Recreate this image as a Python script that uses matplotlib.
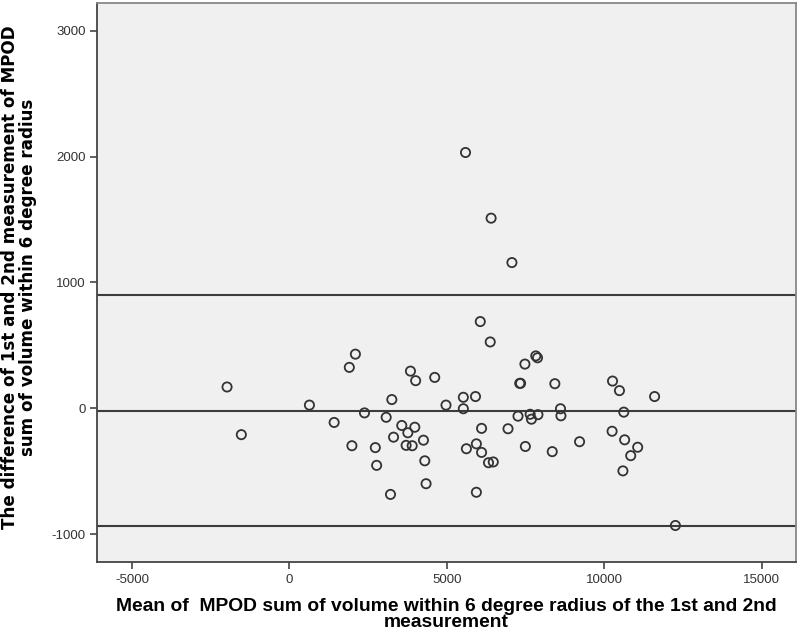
import matplotlib
matplotlib.use("Agg")
import matplotlib.pyplot as plt

plt.rcParams["axes.unicode_minus"] = False

# mean of the two measurements (x) and their difference (y)
mean_vals = [5592, 6405, 7066, 6061, 6377, 2094, 1901, -1983, -1529, 634,
             1419, 2383, 1983, 2727, 2769, 3072, 3251, 3306, 3209, 3567,
             3760, 3705, 3898, 3981, 3843, 4008, 4256, 4298, 4339, 4614,
             4972, 5523, 5523, 5909, 5620, 5937, 6102, 6102, 5937, 6322,
             6474, 6942, 7259, 7314, 7341, 7479, 7493, 7645, 7686, 7893,
             7824, 7879, 8430, 8347, 8609, 8623, 9215, 10262, 10482, 10248,
             10620, 10647, 10592, 10840, 11061, 11598, 12259]
diff_vals = [2033, 1511, 1158, 689, 527, 430, 325, 169, -210, 25,
             -113, -37, -298, -313, -454, -72, 69, -230, -685, -137,
             -195, -295, -298, -151, 295, 219, -254, -418, -600, 245,
             25, 87, -4, 93, -322, -283, -160, -351, -668, -433,
             -427, -163, -63, 198, 198, 351, -304, -48, -87, -51,
             416, 401, 195, -345, -4, -60, -266, 216, 140, -183,
             -31, -251, -498, -377, -310, 93, -932]

mean_diff = -19
upper_loa = 898
lower_loa = -934

x_ticks = [-5000, 0, 5000, 10000, 15000]
y_ticks = [-1000, 0, 1000, 2000, 3000]

fig = plt.figure(figsize=(8, 6.37), dpi=100)
ax = fig.add_axes([0.1216, 0.1182, 0.8734, 0.8766])
ax.set_facecolor("#f0f0f0")

for yv in (upper_loa, mean_diff, lower_loa):
    ax.axhline(yv, color="#3c3c3c", linewidth=1.5, zorder=2)

ax.scatter(mean_vals, diff_vals, s=44, facecolors="none",
           edgecolors="#333333", linewidths=1.3, zorder=3)

ax.set_xlim(-6105, 16090)
ax.set_ylim(-1220, 3219)
ax.set_xticks(x_ticks)
ax.set_yticks(y_ticks)
ax.tick_params(direction="out", length=5, width=1.2, color="#444444",
               labelsize=9.5, labelcolor="#333333")
for lab in ax.get_xticklabels() + ax.get_yticklabels():
    lab.set_family("Liberation Sans")

for side in ("left", "bottom"):
    ax.spines[side].set_color("#444444")
    ax.spines[side].set_linewidth(1.3)
for side in ("top", "right"):
    ax.spines[side].set_color("#888888")
    ax.spines[side].set_linewidth(1.3)

ax.set_xlabel("Mean of  MPOD sum of volume within 6 degree radius of the 1st and 2nd\nmeasurement",
              fontsize=13.9, fontweight="bold", family="Liberation Sans",
              linespacing=0.9, labelpad=9)
ax.set_ylabel("The difference of 1st and 2nd measurement of MPOD\nsum of volume within 6 degree radius",
              fontsize=12.1, fontweight="bold", family="DejaVu Sans",
              linespacing=1.0)
ax.yaxis.set_label_coords(-0.086, 0.51)

fig.savefig("out.png", dpi=100, facecolor="white")
